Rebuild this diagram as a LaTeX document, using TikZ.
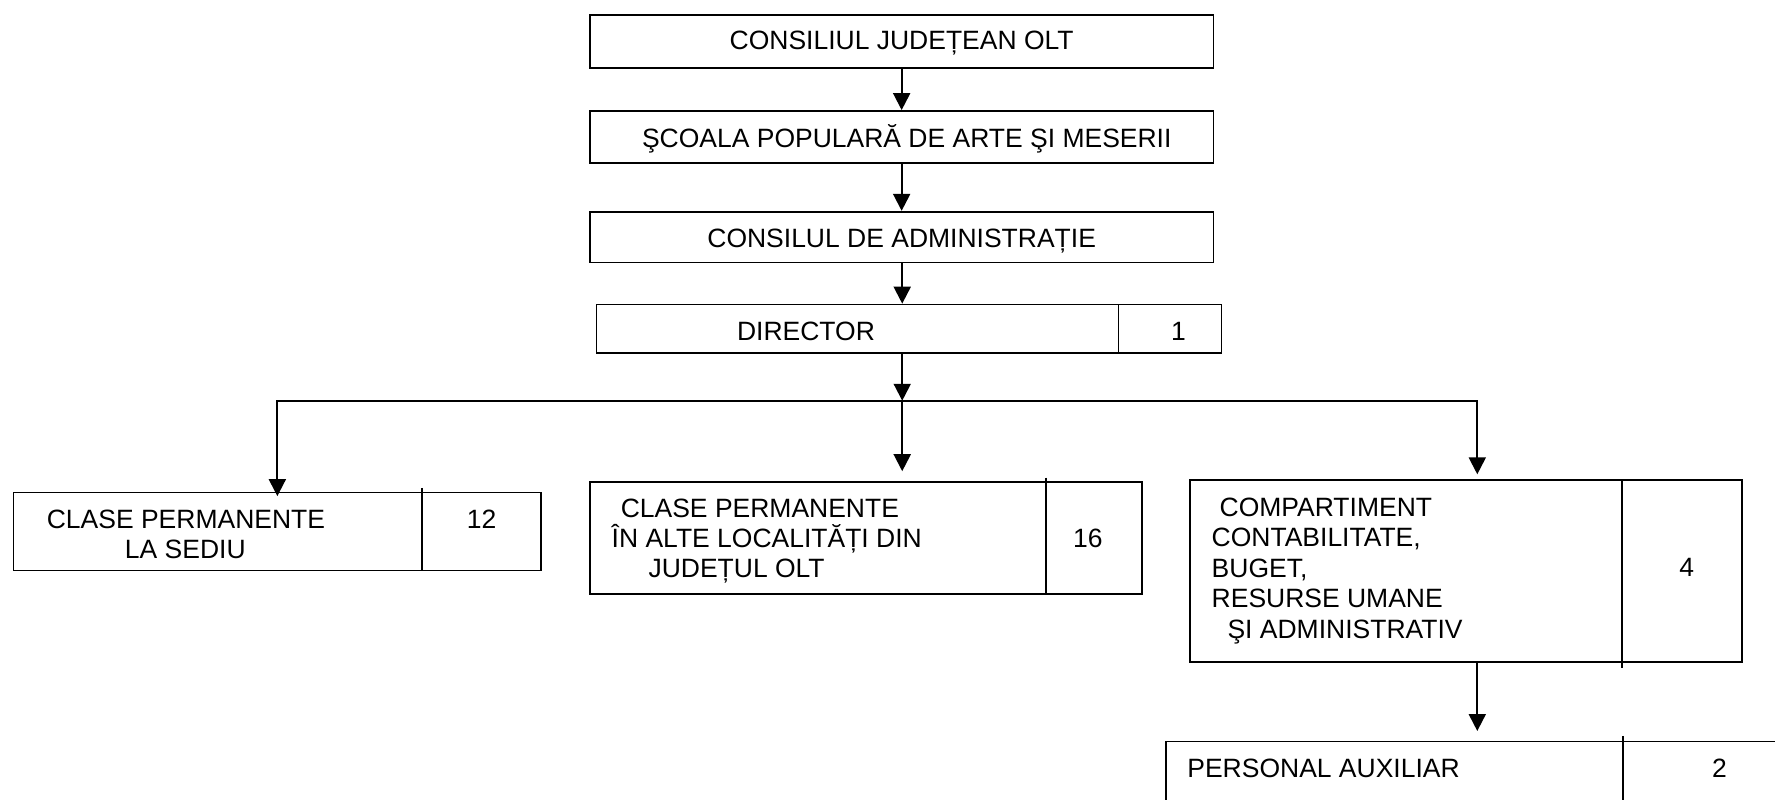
\documentclass[tikz,border=0pt]{standalone}
\usepackage{fontspec}
\setmainfont{Liberation Sans}
\usetikzlibrary{arrows.meta}
\begin{document}
\begin{tikzpicture}[x=0.5pt,y=-0.5pt,
  box/.style={draw, line width=0.75pt, rectangle, inner sep=0pt, anchor=center},
  txt/.style={inner sep=0pt, font=\fontsize{11.7}{13.5}\selectfont},
  arr/.style={line width=0.9pt, -{Triangle[width=7.5pt,length=7.5pt]}},
  sep/.style={line width=0.75pt}]
\useasboundingbox (0,0) rectangle (1568,706);
\clip (0,0) rectangle (1568,706);
\fill[white] (0,0) rectangle (1568,706);
% boxes
\node[box, minimum width=275.5pt, minimum height=23.5pt] (b1) at (796.5,36.5) {};
\node[box, minimum width=275.5pt, minimum height=23pt] (b2) at (796.5,121) {};
\node[box, minimum width=275.5pt, minimum height=22.5pt] (b3) at (796.5,209.5) {};
\node[box, minimum width=276pt, minimum height=21.5pt] (b4) at (803,290.5) {};
\node[box, minimum width=233pt, minimum height=34.5pt] (b5) at (245,469.5) {};
\node[box, minimum width=244pt, minimum height=49.5pt] (b6) at (765,475.5) {};
\node[box, minimum width=244pt, minimum height=80.5pt] (b7) at (1295,504.5) {};
\node[box, minimum width=275pt, minimum height=32.5pt] (b8) at (1305,687.5) {};
% dividers
\draw[sep] (988,269) -- (988,312);
\draw[sep] (373,431) -- (373,504);
\draw[sep] (924,422) -- (924,525);
\draw[sep] (1433,424) -- (1433,590);
\draw[sep] (1434,650) -- (1434,720);
% texts
\node[txt, anchor=base] (t1) at (796.5,44) {CONSILIUL JUDEȚEAN OLT};
\node[txt, anchor=base] (t2) at (801,130) {ŞCOALA POPULARĂ DE ARTE ŞI MESERII};
\node[txt, anchor=base] (t3) at (796.5,218.5) {CONSILUL DE ADMINISTRAȚIE};
\node[txt, anchor=base] (t4) at (712,301) {DIRECTOR};
\node[txt, anchor=base] (n4) at (1041,301) {1};
\node[txt, anchor=base west] (t5a) at (41,467) {CLASE PERMANENTE};
\node[txt, anchor=base west] (t5b) at (110,493) {LA SEDIU};
\node[txt, anchor=base] (n5) at (425.5,467) {12};
\node[txt, anchor=base west] (t6a) at (548,457) {CLASE PERMANENTE};
\node[txt, anchor=base west] (t6b) at (540,484) {ÎN ALTE LOCALITĂȚI DIN};
\node[txt, anchor=base west] (t6c) at (572.5,510) {JUDEȚUL OLT};
\node[txt, anchor=base] (n6) at (961,484) {16};
\node[txt, anchor=base west] (t7a) at (1077,456) {COMPARTIMENT};
\node[txt, anchor=base west] (t7b) at (1070,483) {CONTABILITATE,};
\node[txt, anchor=base west] (t7c) at (1070,510) {BUGET,};
\node[txt, anchor=base west] (t7d) at (1070,537) {RESURSE UMANE};
\node[txt, anchor=base west] (t7e) at (1084,564) {ŞI ADMINISTRATIV};
\node[txt, anchor=base] (n7) at (1490,509) {4};
\node[txt, anchor=base west] (t8) at (1048.5,687) {PERSONAL AUXILIAR};
\node[txt, anchor=base] (n8) at (1519,687) {2};
% connectors
\coordinate (j) at (797,354);
\coordinate (r7) at (1305,424);
\draw[arr] (b1.south) -- (b2.north);
\draw[arr] (b2.south) -- (b3.north);
\draw[arr] (j |- b3.south) -- (j |- b4.north);
\draw[arr] (j |- b4.south) -- (j);
\draw[line width=0.9pt] (b5.north |- j) -- (r7 |- j);
\draw[arr, shorten >=4.5pt] (j) -- (j |- b6.north);
\draw[arr, shorten >=-2pt] (j) -| (b5.north);
\draw[arr, shorten >=2.5pt] (j) -| (r7);
\draw[arr, shorten >=4.25pt] (b8.north |- b7.south) -- (b8.north);
\end{tikzpicture}
\end{document}
